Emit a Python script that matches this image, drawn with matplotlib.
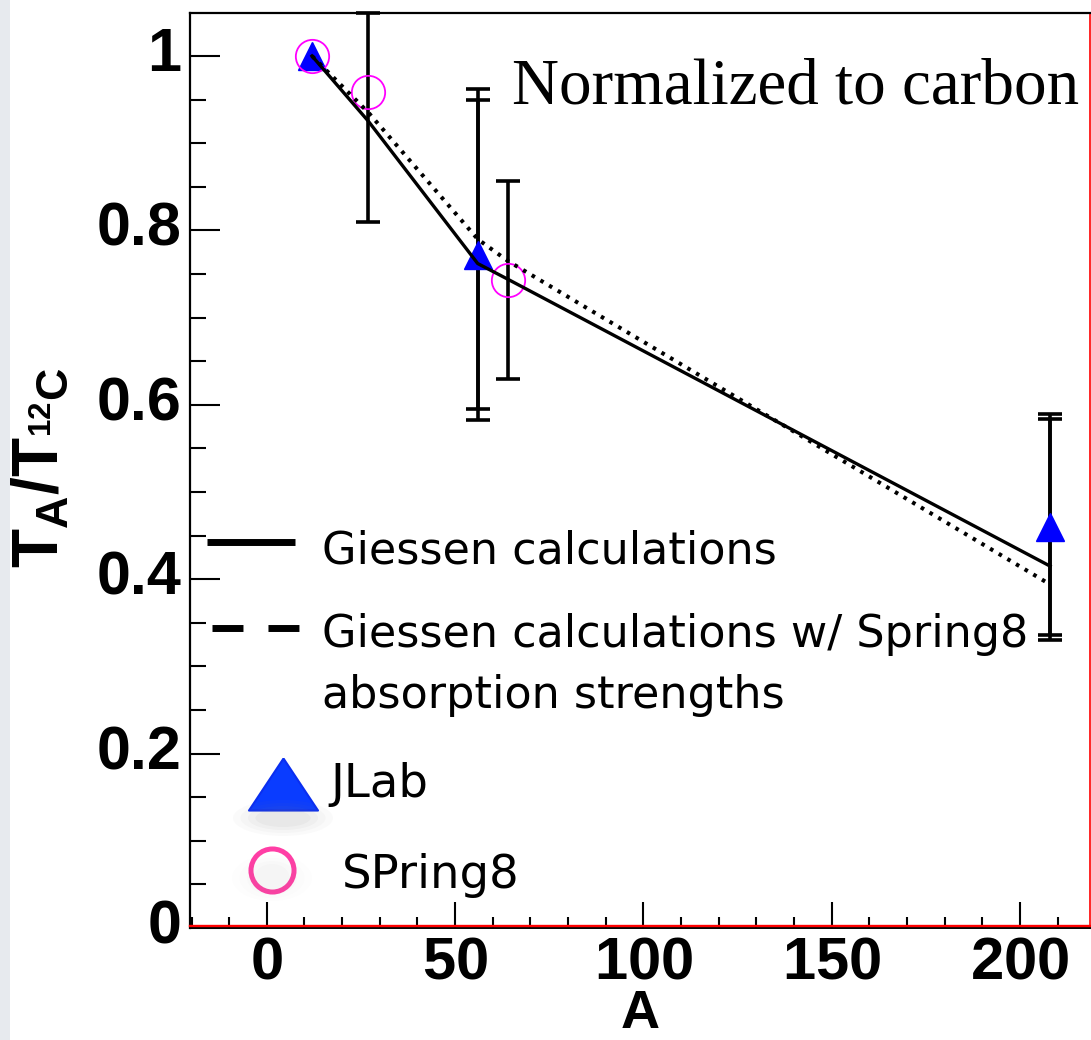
import numpy as np
import matplotlib
matplotlib.use("Agg")
import matplotlib.pyplot as plt
from matplotlib.ticker import MultipleLocator, FixedLocator, FixedFormatter
from matplotlib.patches import Rectangle, Ellipse
import matplotlib.transforms as mtransforms

# ---------------- data ----------------
A_calc = [12, 27, 56, 64, 208]
giessen = [1.0, 0.925, 0.762, 0.744, 0.415]
giessen_sp8 = [1.0, 0.935, 0.790, 0.765, 0.394]

A_jlab = [12, 56, 208]
T_jlab = [1.0, 0.772, 0.46]
jlab_err_inner = [0.0, 0.177, 0.124]
jlab_err_outer = [0.0, 0.190, 0.130]

A_sp8 = [12, 27, 64]
T_sp8 = [1.0, 0.959, 0.743]
sp8_err_lo = [0.0, 0.149, 0.113]
sp8_err_hi = [0.0, 0.090, 0.114]

y_ticks = [0, 0.2, 0.4, 0.6, 0.8, 1.0]
y_tick_labels = ["0", "0.2", "0.4", "0.6", "0.8", "1"]
x_ticks = [0, 50, 100, 150, 200]
x_tick_labels = ["0", "50", "100", "150", "200"]

legend_labels = ["Giessen calculations",
                 "Giessen calculations w/ Spring8\nabsorption strengths",
                 "JLab", "SPring8"]
annotation = "Normalized to carbon"

# ---------------- style ----------------
plt.rcParams['mathtext.fontset'] = 'custom'
plt.rcParams['mathtext.rm'] = 'Liberation Sans:bold'
plt.rcParams['mathtext.bf'] = 'Liberation Sans:bold'
plt.rcParams['mathtext.it'] = 'Liberation Sans:bold'

W, H = 1091, 1040
fig = plt.figure(figsize=(W / 100, H / 100), dpi=100)
fig.patch.set_facecolor('white')

def fx(px):
    return px / W

def fy(py):
    return 1 - py / H

# left textured strip
fig.patches.append(Rectangle((0, 0), fx(10), 1, transform=fig.transFigure,
                             facecolor='#e7eaee', edgecolor='none', zorder=0))

ax = fig.add_axes([fx(190), fy(928), (1090 - 190) / W, (928 - 13) / H])
ax.set_xlim(-20.4, 218.6)
ax.set_ylim(0, 1.0493)

# spines
for s in ['left', 'top']:
    ax.spines[s].set_color('black')
    ax.spines[s].set_linewidth(1.6)
ax.spines['right'].set_color('red')
ax.spines['right'].set_linewidth(1.2)
ax.spines['bottom'].set_color('black')
ax.spines['bottom'].set_linewidth(1.4)
red_tr = mtransforms.offset_copy(ax.transAxes, fig=fig, x=0, y=1.6, units='dots')
ax.plot([0, 1], [0, 0], color='red', lw=1.7, transform=red_tr, clip_on=False, zorder=6)

# ticks
ax.xaxis.set_major_locator(FixedLocator(x_ticks))
ax.xaxis.set_major_formatter(FixedFormatter([r'$\mathbf{%s}$' % t for t in x_tick_labels]))
ax.xaxis.set_minor_locator(MultipleLocator(10))
ax.yaxis.set_major_locator(FixedLocator(y_ticks))
ax.yaxis.set_major_formatter(FixedFormatter(y_tick_labels))
ax.yaxis.set_minor_locator(MultipleLocator(0.05))
ax.tick_params(axis='x', which='major', direction='in', length=18.7, width=1.5,
               pad=3.5, labelsize=43, top=False)
ax.tick_params(axis='x', which='minor', direction='in', length=8, width=1.5, top=False)
ax.tick_params(axis='y', which='major', direction='in', length=21.6, width=1.5,
               pad=6, labelsize=44, right=False)
ax.tick_params(axis='y', which='minor', direction='in', length=11.5, width=1.5, right=False)
for lab in ax.get_yticklabels():
    lab.set_fontfamily('Liberation Sans')
    lab.set_fontweight('bold')
    lab.set_verticalalignment('center')

# ---------------- data marks ----------------
A_jlab_a = np.array(A_jlab, dtype=float)
T_jlab_a = np.array(T_jlab)
m = np.array(jlab_err_outer) > 0
for err in (jlab_err_outer, jlab_err_inner):
    e = np.array(err)
    ax.errorbar(A_jlab_a[m], T_jlab_a[m], yerr=e[m], fmt='none', ecolor='black',
                elinewidth=2.6, capsize=8.3, capthick=2.6, zorder=2)
A_sp8_a = np.array(A_sp8, dtype=float)
T_sp8_a = np.array(T_sp8)
m2 = np.array(sp8_err_lo) > 0
ax.errorbar(A_sp8_a[m2], T_sp8_a[m2],
            yerr=[np.array(sp8_err_lo)[m2], np.array(sp8_err_hi)[m2]],
            fmt='none', ecolor='black', elinewidth=2.6, capsize=8.3, capthick=2.6,
            zorder=2, clip_on=False)

ax.plot(A_jlab, T_jlab, linestyle='none', marker='^', markersize=20,
        markerfacecolor='#0000ff', markeredgecolor='#0000ff', zorder=3)
ax.plot(A_sp8, T_sp8, linestyle='none', marker='o', markersize=24,
        markerfacecolor='none', markeredgecolor='#ff00ff', markeredgewidth=1.3, zorder=3)

ax.plot(A_calc, giessen, color='black', lw=2.4, zorder=4, solid_joinstyle='round')
ax.plot(A_calc, giessen_sp8, color='black', lw=2.9, linestyle=(0, (0.9, 1.6)),
        dash_capstyle='butt', zorder=4)

# ---------------- annotation ----------------
fig.text(fx(512), fy(103), annotation, fontfamily='Liberation Serif', fontsize=46.8,
         ha='left', va='baseline')

# axis labels
fig.text(fx(40), fy(468), r'$\mathbf{T_{A}/T_{{}^{12}C}}$', rotation=90,
         ha='center', va='center', fontsize=46)
fig.text(fx(640), fy(1039), r'$\mathbf{A}$', fontsize=39, ha='center', va='bottom')

# ---------------- custom legend ----------------
tf = fig.transFigure
leg_fs = 32
ax.plot([fx(207), fx(295)], [fy(542), fy(542)], color='black', lw=5,
        solid_capstyle='butt', transform=tf, clip_on=False, zorder=7)
lw_d = 5
ax.plot([fx(212), fx(299)], [fy(628), fy(628)], color='black', lw=lw_d,
        dashes=(22.3 / lw_d, 18 / lw_d), dash_capstyle='butt',
        transform=tf, clip_on=False, zorder=7)
fig.text(fx(322), fy(563), legend_labels[0], fontsize=leg_fs,
         fontfamily='DejaVu Sans', ha='left', va='baseline')
l1, l2 = legend_labels[1].split('\n')
fig.text(fx(322), fy(647), l1, fontsize=leg_fs, fontfamily='DejaVu Sans',
         ha='left', va='baseline')
fig.text(fx(322), fy(708), l2, fontsize=leg_fs, fontfamily='DejaVu Sans',
         ha='left', va='baseline')

# soft shadows under legend symbols
for i, a in enumerate([0.035, 0.04, 0.05, 0.06]):
    w = 100 - i * 15
    h = 36 - i * 6
    fig.patches.append(Ellipse((fx(283), fy(818)), w / W, h / H, transform=tf,
                               facecolor='#808080', edgecolor='none', alpha=a, zorder=1))
    fig.patches.append(Ellipse((fx(272), fy(878)), (w - 20) / W, (h + 10) / H, transform=tf,
                               facecolor='#a0a0a0', edgecolor='none', alpha=a * 0.5, zorder=1))

tri = [(0, 0.754), (-1, -0.754), (1, -0.754), (0, 0.754)]
ax.plot([fx(282.5)], [fy(784)], marker=tri, markersize=49.7, linestyle='none',
        markerfacecolor='#0a3cff', markeredgecolor='#0a2ef0', markeredgewidth=1.5,
        transform=tf, clip_on=False, zorder=7)
fig.text(fx(330), fy(797), legend_labels[2], fontsize=33.5, fontfamily='DejaVu Sans',
         ha='left', va='baseline')
ax.plot([fx(272)], [fy(870)], marker='o', markersize=31, linestyle='none',
        markerfacecolor='none', markeredgecolor='#ff3ea5', markeredgewidth=3.6,
        transform=tf, clip_on=False, zorder=7)
fig.text(fx(342), fy(888), legend_labels[3], fontsize=33.5, fontfamily='DejaVu Sans',
         ha='left', va='baseline')

fig.savefig('out.png', dpi=100)
